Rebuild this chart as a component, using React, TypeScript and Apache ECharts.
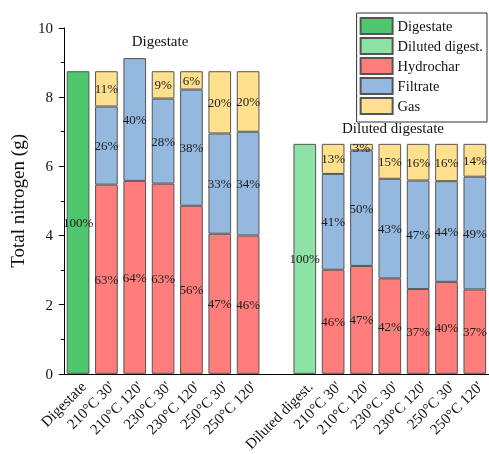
import React, { useEffect, useRef } from "react";
import * as echarts from "echarts";

const categories = [
  "Digestate", "210°C 30'", "210°C 120'", "230°C 30'", "230°C 120'", "250°C 30'", "250°C 120'",
  "",
  "Diluted digest.", "210°C 30'", "210°C 120'", "230°C 30'", "230°C 120'", "250°C 30'", "250°C 120'",
];

const digestate = [8.75, null, null, null, null, null, null, null, null, null, null, null, null, null, null];
const diluted = [null, null, null, null, null, null, null, null, 6.65, null, null, null, null, null, null];
const hydrochar = [null, 5.47, 5.58, 5.5, 4.86, 4.05, 4.0, null, null, 3.01, 3.12, 2.76, 2.45, 2.66, 2.44];
const filtrate = [null, 2.26, 3.55, 2.46, 3.36, 2.9, 3.0, null, null, 2.77, 3.34, 2.88, 3.14, 2.91, 3.26];
const gas = [null, 1.02, null, 0.79, 0.53, 1.8, 1.75, null, null, 0.87, 0.19, 1.01, 1.06, 1.08, 0.95];

const digestatePct = [100, null, null, null, null, null, null, null, null, null, null, null, null, null, null];
const dilutedPct = [null, null, null, null, null, null, null, null, 100, null, null, null, null, null, null];
const hydrocharPct = [null, 63, 64, 63, 56, 47, 46, null, null, 46, 47, 42, 37, 40, 37];
const filtratePct = [null, 26, 40, 28, 38, 33, 34, null, null, 41, 50, 43, 47, 44, 49];
const gasPct = [null, 11, null, 9, 6, 20, 20, null, null, 13, 3, 15, 16, 16, 14];

const groupTitles = ["Digestate", "Diluted digestate"];
const yTicks = { min: 0, max: 10, interval: 2 };

const FONT = "'Liberation Serif', 'DejaVu Serif', serif";

export default function App() {
  const ref = useRef<HTMLDivElement>(null);
  useEffect(() => {
    if (!ref.current) return;
    const chart = echarts.init(ref.current, undefined, { renderer: "svg" });
    const toData = (arr: (number | null)[]) => arr.map((v) => (v == null ? "-" : v));
    const mk = (name: string, data: (number | null)[], pct: (number | null)[], color: string) => ({
      name,
      type: "bar",
      stack: "total",
      barWidth: "80%",
      data: toData(data),
      itemStyle: { color, borderColor: "#555", borderWidth: 1 },
      label: {
        show: true,
        position: "inside",
        fontFamily: FONT,
        fontSize: 13,
        color: "#1a1a1a",
        formatter: (p: any) => (pct[p.dataIndex] == null ? "" : pct[p.dataIndex] + "%"),
      },
    });
    chart.setOption({
      animation: false,
      textStyle: { fontFamily: FONT },
      grid: { left: 60, right: 0, top: 28, bottom: 79 },
      legend: {
        orient: "vertical",
        right: 2,
        top: 13,
        padding: [4, 4, 7, 3],
        itemWidth: 32,
        itemHeight: 16,
        itemGap: 2,
        icon: "rect",
        borderColor: "#333",
        borderWidth: 1,
        textStyle: { fontFamily: FONT, fontSize: 14.5, color: "#111" },
        data: ["Digestate", "Diluted digest.", "Hydrochar", "Filtrate", "Gas"],
      },
      graphic: [
        { type: "text", x: 160, y: 33, style: { text: groupTitles[0], font: `15px ${FONT}`, fill: "#111", textAlign: "center", textVerticalAlign: "top" } },
        { type: "text", x: 393, y: 120, style: { text: groupTitles[1], font: `15px ${FONT}`, fill: "#111", textAlign: "center", textVerticalAlign: "top" } },
      ],
      xAxis: {
        type: "category",
        data: categories,
        axisLine: { lineStyle: { color: "#000" } },
        axisTick: { interval: 0, length: 4, lineStyle: { color: "#000" } },
        axisLabel: {
          interval: 0,
          rotate: 45,
          fontFamily: FONT,
          fontSize: 15,
          color: "#111",
          margin: 5,
          verticalAlign: "top",
        },
      },
      yAxis: {
        type: "value",
        min: yTicks.min,
        max: yTicks.max,
        interval: yTicks.interval,
        name: "Total nitrogen (g)",
        nameLocation: "middle",
        nameGap: 30,
        nameTextStyle: { fontFamily: FONT, fontSize: 19, color: "#111" },
        axisLine: { show: true, lineStyle: { color: "#000" } },
        axisTick: { show: true, length: 5, lineStyle: { color: "#000" } },
        minorTick: { show: true, splitNumber: 2, length: 3, lineStyle: { color: "#000" } },
        splitLine: { show: false },
        axisLabel: { fontFamily: FONT, fontSize: 15, color: "#111", margin: 11 },
      },
      series: [
        mk("Digestate", digestate, digestatePct, "#4EC76F"),
        mk("Diluted digest.", diluted, dilutedPct, "#8EE2A6"),
        mk("Hydrochar", hydrochar, hydrocharPct, "#FF7D7B"),
        mk("Filtrate", filtrate, filtratePct, "#94B8DE"),
        mk("Gas", gas, gasPct, "#FFE08F"),
      ],
    });
    return () => chart.dispose();
  }, []);
  return (
    <div
      ref={ref}
      style={{ position: "fixed", left: 0, top: 0, width: 489, height: 454 }}
    />
  );
}
